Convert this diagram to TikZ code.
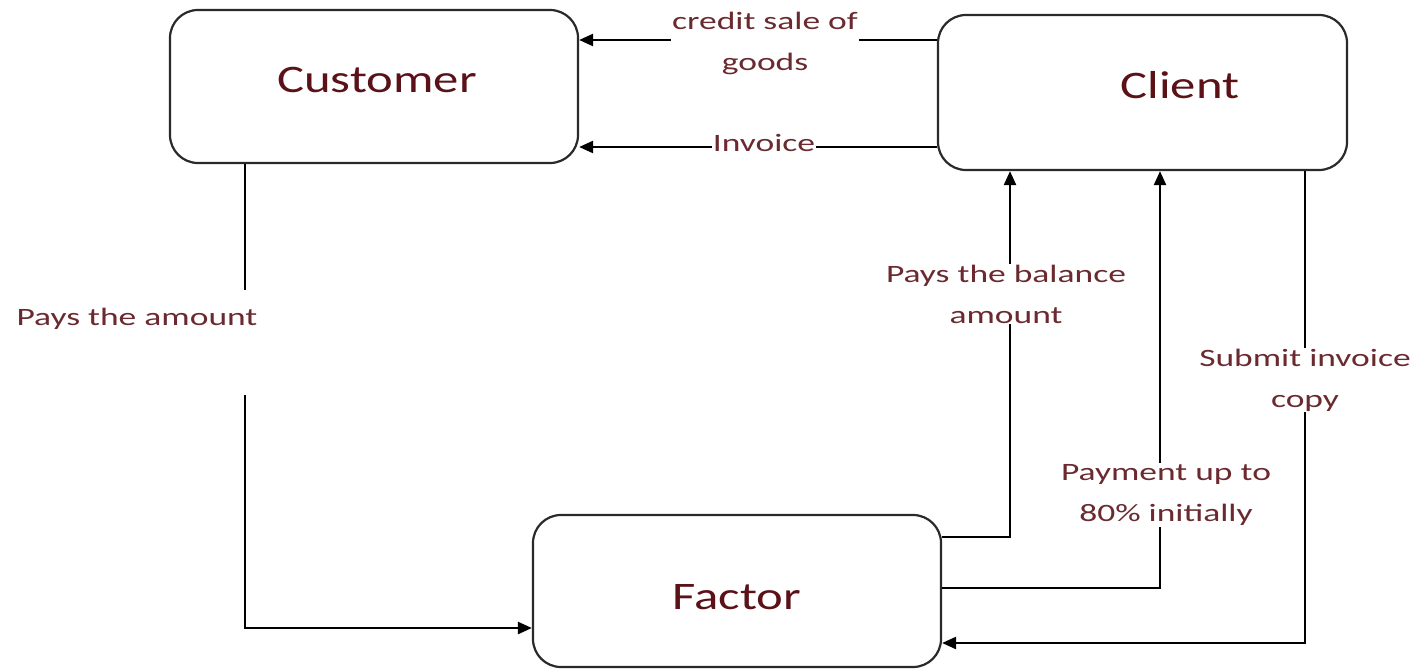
\documentclass[tikz,border=0pt]{standalone}
\usepackage{fontspec}
\usetikzlibrary{arrows.meta}
\newfontfamily\titlefont[FakeStretch=1.3]{Carlito}
\newfontfamily\lblfont[FakeStretch=1.42]{Carlito}
\definecolor{titlered}{HTML}{5A1218}
\definecolor{lblred}{HTML}{6A2A30}
\definecolor{linegray}{HTML}{2A2A2A}
\tikzset{
  box/.style={draw=linegray, line width=2.2pt, rounded corners=28pt, fill=white, inner sep=0pt},
  title/.style={text=titlered, font=\titlefont\fontsize{39}{44}\selectfont, inner sep=0pt},
  lbl/.style={text=lblred, font=\lblfont\fontsize{25}{41}\selectfont, align=center, fill=white, inner sep=1pt},
  conn/.style={draw=black, line width=2.4pt},
  arr/.style={conn, -{Triangle[length=14pt,width=12pt]}},
}
\begin{document}
\begin{tikzpicture}[x=1pt,y=-1pt]
\useasboundingbox (0,0) rectangle (1418,669);
\fill[white] (0,0) rectangle (1418,669);
% boxes
\node[box, minimum width=408pt, minimum height=153pt] (customer) at (374,86.5) {};
\node[box, minimum width=409pt, minimum height=155pt] (client) at (1142.5,92.5) {};
\node[box, minimum width=408pt, minimum height=152pt] (factor) at (737,591) {};
\node[title] (tcustomer) at (377,80) {Customer};
\node[title] (tclient) at (1180,85) {Client};
\node[title] (tfactor) at (737,597) {Factor};
% client -> customer
\draw[arr] ([yshift=52.5pt]client.west) coordinate (c1) -- (c1 -| customer.east);
\draw[arr] ([yshift=-54.5pt]client.west) coordinate (c2) -- (c2 -| customer.east);
% customer -> factor
\coordinate (pa1) at (245,290);
\coordinate (pa2) at (245,395);
\draw[conn] (pa1 |- customer.south) -- (pa1);
\draw[arr] (pa2) |- ([yshift=-37pt]factor.west);
% factor -> client
\draw[arr] ([yshift=54pt]factor.east) -| ([xshift=-132.5pt]client.south);
\draw[arr] ([yshift=3pt]factor.east) -| ([xshift=17.5pt]client.south);
% client -> factor
\draw[arr] ([xshift=162.5pt]client.south) |- ([yshift=-52pt]factor.east);
% labels
\node[lbl] (lcredit) at (765,43) {credit sale of\\goods};
\node[lbl] (linvoice) at (764,143) {Invoice};
\node[lbl, fill=none] (lpays) at (137,319) {Pays the amount};
\node[lbl] (lbalance) at (1006,294) {Pays the balance\\amount};
\node[lbl] (lsubmit) at (1305,380) {Submit invoice\\copy};
\node[lbl] (lpayment) at (1166,495) {Payment up to\\80\% initially};
\end{tikzpicture}
\end{document}
